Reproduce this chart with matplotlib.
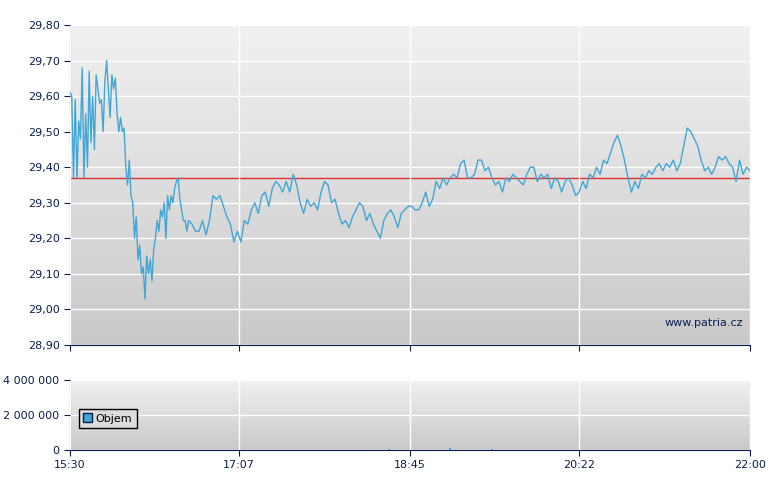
import numpy as np
import matplotlib
matplotlib.use('Agg')
import matplotlib.pyplot as plt
from matplotlib.patches import Patch

# minutes after 15:30 and price
minutes = [0, 1, 2, 3, 4, 5, 6, 7, 8, 9, 10, 11, 12, 13, 14, 15, 16, 17, 18, 19, 20, 21, 22, 23, 24, 25,
           26, 27, 28, 29, 30, 31, 32, 33, 34, 35, 36, 37, 38, 39, 40, 41, 42, 43, 44, 45, 46, 47, 48, 49,
           50, 51, 52, 53, 54, 55, 56, 57, 58, 59, 60, 61, 62, 63, 64, 65, 66, 67, 68, 70, 72, 74, 76, 78,
           80, 82, 84, 86, 88, 90, 92, 94, 96, 98, 100, 102, 104, 106, 108, 110, 112, 114, 116, 118, 120,
           122, 124, 126, 128, 130, 132, 134, 136, 138, 140, 142, 144, 146, 148, 150, 152, 154, 156, 158,
           160, 162, 164, 166, 168, 170, 172, 174, 176, 178, 180, 182, 184, 186, 188, 190, 192, 194, 196,
           198, 200, 202, 204, 206, 208, 210, 212, 214, 216, 218, 220, 222, 224, 226, 228, 230, 232, 234,
           236, 238, 240, 242, 244, 246, 248, 250, 252, 254, 256, 258, 260, 262, 264, 266, 268, 270, 272,
           274, 276, 278, 280, 282, 284, 286, 288, 290, 292, 294, 296, 298, 300, 302, 304, 306, 308, 310,
           312, 314, 316, 318, 320, 322, 324, 326, 328, 330, 332, 334, 336, 338, 340, 342, 344, 346, 348,
           350, 352, 354, 356, 358, 360, 362, 364, 366, 368, 370, 372, 374, 376, 378, 380, 382, 384, 386,
           388, 390]
prices = [29.61, 29.60, 29.37, 29.59, 29.37, 29.53, 29.48, 29.68, 29.37, 29.55, 29.40, 29.67, 29.47, 29.60,
          29.45, 29.66, 29.62, 29.58, 29.59, 29.50, 29.64, 29.70, 29.62, 29.54, 29.66, 29.62, 29.65, 29.55,
          29.50, 29.54, 29.50, 29.51, 29.40, 29.35, 29.42, 29.32, 29.30, 29.20, 29.26, 29.14, 29.18, 29.10,
          29.12, 29.03, 29.15, 29.10, 29.14, 29.08, 29.17, 29.20, 29.25, 29.22, 29.28, 29.26, 29.30, 29.20,
          29.32, 29.28, 29.32, 29.30, 29.34, 29.36, 29.37, 29.31, 29.28, 29.25, 29.25, 29.22, 29.25, 29.24,
          29.22, 29.22, 29.25, 29.21, 29.25, 29.32, 29.31, 29.32, 29.29, 29.26, 29.24, 29.19, 29.22, 29.19,
          29.25, 29.24, 29.28, 29.30, 29.27, 29.32, 29.33, 29.29, 29.34, 29.36, 29.35, 29.33, 29.36, 29.33,
          29.38, 29.35, 29.30, 29.27, 29.31, 29.29, 29.30, 29.28, 29.33, 29.36, 29.35, 29.30, 29.31, 29.27,
          29.24, 29.25, 29.23, 29.26, 29.28, 29.30, 29.29, 29.25, 29.27, 29.24, 29.22, 29.20, 29.25, 29.27,
          29.28, 29.26, 29.23, 29.27, 29.28, 29.29, 29.29, 29.28, 29.28, 29.30, 29.33, 29.29, 29.31, 29.36,
          29.34, 29.37, 29.35, 29.37, 29.38, 29.37, 29.41, 29.42, 29.37, 29.37, 29.38, 29.42, 29.42, 29.39,
          29.40, 29.37, 29.35, 29.36, 29.33, 29.37, 29.36, 29.38, 29.37, 29.36, 29.35, 29.38, 29.40, 29.40,
          29.36, 29.38, 29.37, 29.38, 29.34, 29.37, 29.36, 29.33, 29.36, 29.37, 29.35, 29.32, 29.33, 29.36,
          29.34, 29.38, 29.37, 29.40, 29.38, 29.42, 29.41, 29.44, 29.47, 29.49, 29.46, 29.42, 29.37, 29.33,
          29.36, 29.34, 29.38, 29.37, 29.39, 29.38, 29.40, 29.41, 29.39, 29.41, 29.40, 29.42, 29.39, 29.41,
          29.46, 29.51, 29.50, 29.48, 29.46, 29.42, 29.39, 29.40, 29.38, 29.40, 29.43, 29.42, 29.43, 29.41,
          29.40, 29.36, 29.42, 29.38, 29.40, 29.39]
prev_close = 29.37

vol_minutes = [68, 121, 183, 218, 242, 360]
volumes = [20000, 15000, 60000, 110000, 30000, 25000]

tick_pos = [0, 97, 195, 292, 390]
tick_labels = ['15:30', '17:07', '18:45', '20:22', '22:00']

navy = '#0a1e50'
line_col = '#41a6d6'


def style_axis(ax, ymin, ymax):
    grad = np.linspace(0, 1, 256).reshape(-1, 1)
    ax.imshow(grad, extent=[0, 390, ymin, ymax], aspect='auto', origin='upper',
              cmap=matplotlib.colors.LinearSegmentedColormap.from_list('g', ['#f1f1f1', '#c9c9c9']),
              zorder=0)
    ax.set_xlim(0, 390)
    ax.set_ylim(ymin, ymax)
    ax.grid(True, color='white', linewidth=1)
    ax.set_axisbelow(False)
    for s in ['top', 'right']:
        ax.spines[s].set_visible(False)
    for s in ['left', 'bottom']:
        ax.spines[s].set_color(navy)
    ax.tick_params(colors=navy, labelcolor=navy, labelsize=8, length=4)
    ax.set_xticks(tick_pos)


fig = plt.figure(figsize=(7.8, 4.9), dpi=100)
ax1 = fig.add_axes([70 / 780, 1 - 345 / 490, 680 / 780, 320 / 490])
ax2 = fig.add_axes([70 / 780, 1 - 450 / 490, 680 / 780, 70 / 490])

style_axis(ax1, 28.9, 29.8)
ax1.set_yticks(np.arange(28.9, 29.81, 0.1))
ax1.set_yticklabels([f'{v:.2f}'.replace('.', ',') for v in np.arange(28.9, 29.81, 0.1)])
ax1.set_xticklabels([])
ax1.grid(True, color='white', linewidth=1, zorder=1)
ax1.axhline(prev_close, color='#e03030', linewidth=1, zorder=2)
ax1.plot(minutes, prices, color=line_col, linewidth=1, zorder=3)
ax1.text(0.99, 0.06, 'www.patria.cz', transform=ax1.transAxes, ha='right',
         fontsize=8, color=navy)

style_axis(ax2, 0, 4000000)
ax2.set_yticks([0, 2000000, 4000000])
ax2.set_yticklabels(['0', '2 000 000', '4 000 000'])
ax2.set_xticklabels(tick_labels)
ax2.bar(vol_minutes, volumes, width=1, color=line_col, zorder=3)
leg = ax2.legend(handles=[Patch(facecolor=line_col, edgecolor=navy, label='Objem')],
                 loc='center left', bbox_to_anchor=(0.005, 0.45), fontsize=8,
                 fancybox=False, edgecolor='black', framealpha=1,
                 handlelength=0.8, handleheight=0.8, handletextpad=0.3)
leg.get_frame().set_facecolor('#dcdcdc')

fig.savefig('out.png', dpi=100)
